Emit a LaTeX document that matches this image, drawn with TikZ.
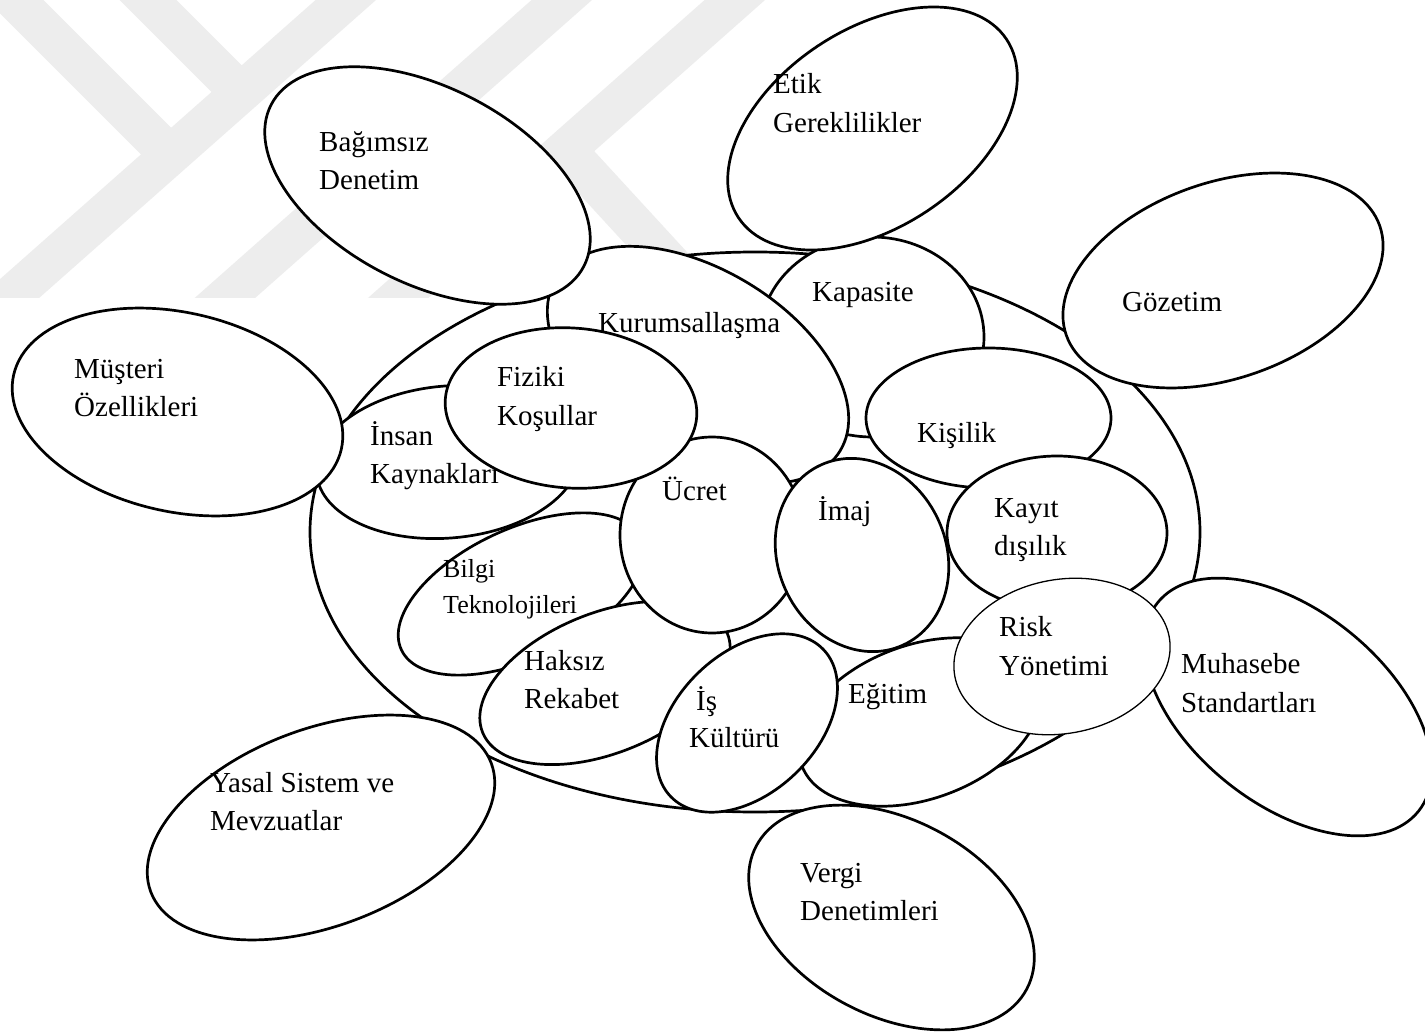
\documentclass[tikz,border=0pt]{standalone}
\usepackage{fontspec}
\setmainfont{Liberation Serif}
\usetikzlibrary{shapes.geometric}
\begin{document}
\begin{tikzpicture}[x=1pt,y=-1pt,
  ov/.style={ellipse, draw=black, fill=white, line width=2.7pt, inner sep=0pt, outer sep=0pt},
  thinov/.style={ov, line width=1.3pt},
  lbl/.style={anchor=base west, inner sep=0pt, font=\fontsize{29}{39}\selectfont},
  lbls/.style={lbl, font=\fontsize{26}{36}\selectfont},
  wm/.style={draw=black!7, line width=40pt, line cap=butt, line join=miter}]
\useasboundingbox (0,0) rectangle (1425,1032);
\fill[white] (0,0) rectangle (1425,1032);
\clip (0,0) rectangle (1425,1032);
% faint watermark
\begin{scope}
\clip (0,0) rectangle (1425,298);
\draw[wm] (391,-40) -- (-16,320);
\draw[wm] (607,-40) -- (200,320);
\draw[wm] (780,-40) -- (362,330);
\draw[wm] (-25,-40) -- (171,156);
\draw[wm] (108,-40) -- (241,93);
\draw[wm] (566,150) -- (736,335);
\end{scope}
% ellipses, bottom to top
\node[ov, minimum width=890pt, minimum height=560pt] (big) at (755,532) {};
\node[ov, minimum width=224pt, minimum height=200pt] (kap) at (872,337) {};
\node[ov, minimum width=332pt, minimum height=192pt, rotate=-31] (kur) at (698,365) {};
\node[ov, minimum width=322pt, minimum height=198pt, rotate=33.7] (etik) at (872.5,128.5) {};
\node[ov, minimum width=352pt, minimum height=196pt, rotate=-27.3] (bag) at (427.5,185.5) {};
\node[ov, minimum width=264pt, minimum height=152pt, rotate=5] (ins) at (448,462) {};
\node[ov, minimum width=336pt, minimum height=199pt, rotate=-12.8] (mus) at (177.5,412) {};
\node[ov, minimum width=264pt, minimum height=130pt, rotate=25] (bil) at (521,594) {};
\node[ov, minimum width=264pt, minimum height=140pt, rotate=22] (hak) at (605,683) {};
\node[ov, minimum width=184pt, minimum height=196pt] (ucr) at (712,535) {};
\node[ov, minimum width=252pt, minimum height=160pt, rotate=-4] (fiz) at (571,408) {};
\node[ov, minimum width=198pt, minimum height=168pt, rotate=-65.5] (ima) at (862,555) {};
\node[ov, minimum width=245pt, minimum height=140pt] (kis) at (988.5,418) {};
\node[ov, minimum width=220pt, minimum height=154pt] (kay) at (1057,533) {};
\node[ov, minimum width=252pt, minimum height=154pt, rotate=20] (egi) at (920,722) {};
\node[ov, minimum width=212pt, minimum height=140pt, rotate=44] (isk) at (747,723) {};
\node[ov, minimum width=334pt, minimum height=194pt, rotate=-38.6] (muh) at (1288,707) {};
\node[thinov, minimum width=218pt, minimum height=154pt, rotate=10.4] (ris) at (1062,656.5) {};
\node[ov, minimum width=332pt, minimum height=196pt, rotate=19.2] (goz) at (1223,280.5) {};
\node[ov, minimum width=306pt, minimum height=196pt, rotate=-27.9] (ver) at (891.5,917.5) {};
\node[ov, minimum width=364pt, minimum height=197pt, rotate=20.75] (yas) at (321,827.5) {};
% labels
\node[lbl] (tEtik1) at (773,94) {Etik};
\node[lbl] (tEtik2) at (773,133) {Gereklilikler};
\node[lbl] (tBag1) at (319,152) {Bağımsız};
\node[lbl] (tBag2) at (319,190) {Denetim};
\node[lbl] (tKap) at (812,302) {Kapasite};
\node[lbl] (tGoz) at (1122,312) {Gözetim};
\node[lbl] (tKur) at (598,333) {Kurumsallaşma};
\node[lbl] (tMus1) at (74,378) {Müşteri};
\node[lbl] (tMus2) at (74,417) {Özellikleri};
\node[lbl] (tIns1) at (370,445) {İnsan};
\node[lbl] (tIns2) at (370,483) {Kaynakları};
\node[lbl] (tFiz1) at (497,386) {Fiziki};
\node[lbl] (tFiz2) at (497,425) {Koşullar};
\node[lbl] (tUcr) at (662,500) {Ücret};
\node[lbl] (tIma) at (818,520) {İmaj};
\node[lbl] (tKis) at (917,442) {Kişilik};
\node[lbl] (tKay1) at (994,517) {Kayıt};
\node[lbl] (tKay2) at (994,555) {dışılık};
\node[lbls] (tBil1) at (443,577) {Bilgi};
\node[lbls] (tBil2) at (443,613) {Teknolojileri};
\node[lbl] (tHak1) at (524,670) {Haksız};
\node[lbl] (tHak2) at (524,708) {Rekabet};
\node[lbl] (tIs1) at (696,710) {İş};
\node[lbl] (tIs2) at (689,747) {Kültürü};
\node[lbl] (tEgi) at (848,703) {Eğitim};
\node[lbl] (tRis1) at (999,636) {Risk};
\node[lbl] (tRis2) at (999,675) {Yönetimi};
\node[lbl] (tMuh1) at (1181,673) {Muhasebe};
\node[lbl] (tMuh2) at (1181,712) {Standartları};
\node[lbl] (tYas1) at (210,792) {Yasal Sistem ve};
\node[lbl] (tYas2) at (210,830) {Mevzuatlar};
\node[lbl] (tVer1) at (800,882) {Vergi};
\node[lbl] (tVer2) at (800,920) {Denetimleri};
\end{tikzpicture}
\end{document}
